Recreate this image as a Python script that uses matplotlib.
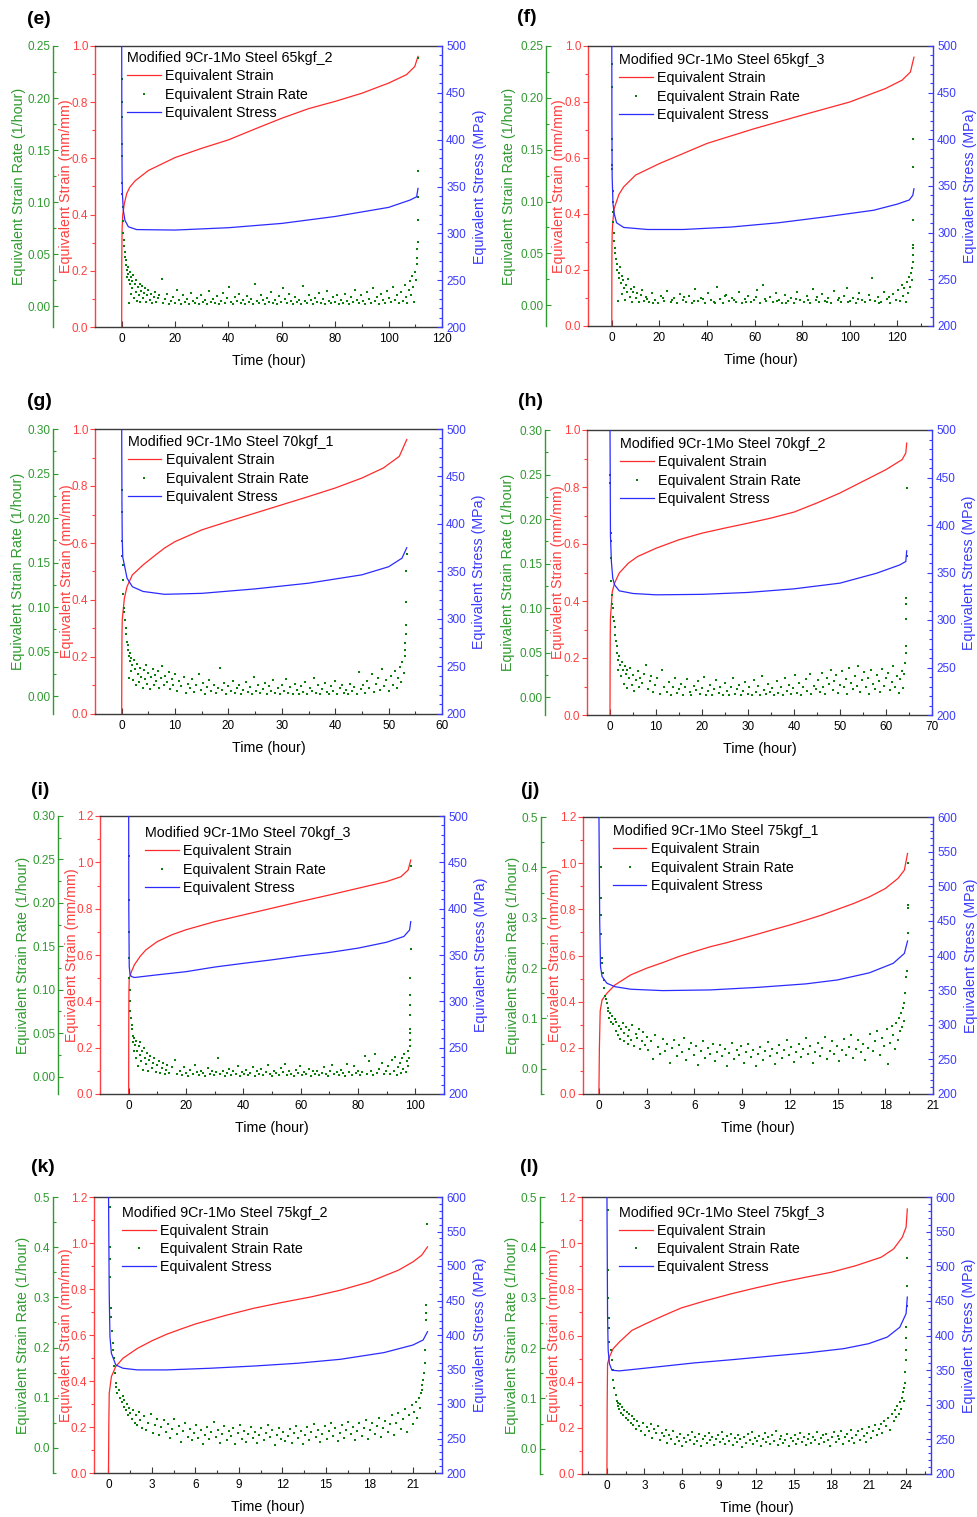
import matplotlib
matplotlib.use('Agg')
import matplotlib.pyplot as plt
from matplotlib.lines import Line2D
from matplotlib.ticker import MultipleLocator, FormatStrFormatter

plt.rcParams['font.family'] = ['Liberation Sans', 'DejaVu Sans']

# ---------------- DATA ----------------
titles = ['Modified 9Cr-1Mo Steel 65kgf_2', 'Modified 9Cr-1Mo Steel 65kgf_3',
          'Modified 9Cr-1Mo Steel 70kgf_1', 'Modified 9Cr-1Mo Steel 70kgf_2',
          'Modified 9Cr-1Mo Steel 70kgf_3', 'Modified 9Cr-1Mo Steel 75kgf_1',
          'Modified 9Cr-1Mo Steel 75kgf_2', 'Modified 9Cr-1Mo Steel 75kgf_3']
letters = ['(e)', '(f)', '(g)', '(h)', '(i)', '(j)', '(k)', '(l)']
series_labels = ['Equivalent Strain', 'Equivalent Strain Rate', 'Equivalent Stress']

# (e) 65kgf_2
strain_t_e = [0, 0.02, 0.05, 0.15, 0.4, 1.0, 1.9, 3, 5, 10, 20, 30, 40, 50, 60, 70, 80, 90, 100, 106.7, 109.8, 111]
strain_v_e = [0, 0.15, 0.25, 0.35, 0.40, 0.44, 0.475, 0.497, 0.52, 0.557, 0.603, 0.636, 0.666, 0.705, 0.743, 0.777, 0.803, 0.832, 0.868, 0.898, 0.927, 0.963]
stress_t_e = [0, 0.05, 0.15, 0.3, 0.6, 1.2, 2.5, 5.6, 20, 40, 60, 80, 100, 108, 110.5, 111]
stress_v_e = [505, 420, 360, 340, 325, 314, 307, 304, 303.5, 306, 310.6, 318, 327.7, 335.5, 339, 348]
rate_e = [(0.08,0.218),(0.1,0.196),(0.12,0.182),(0.15,0.156),(0.18,0.144),(0.25,0.118),(0.3,0.108),(0.4,0.095),(0.5,0.082),(0.6,0.07),(0.8,0.064),(1.0,0.058),(1.2,0.052),(1.4,0.047),(1.6,0.044),
 (1.8,0.04),(2.0,0.035),(2.1,0.028),(2.3,0.038),(2.5,0.031),(2.6,0.003),(2.8,0.025),(3.0,0.033),(3.2,0.021),(3.4,0.028),(3.6,0.012),(3.8,0.024),(4.0,0.017),(4.3,0.03),(4.6,0.008),(4.9,0.021),(5.2,0.014),(5.5,0.025),(5.8,0.005),(6.1,0.018),(6.4,0.011),(6.7,0.021),(7.0,0.004),(7.3,0.015),(7.6,0.019),(8.0,0.008),(8.4,0.013),(8.8,0.017),(9.2,0.004),(9.6,0.011),(10.0,0.016),(10.5,0.006),(11.0,0.012),(11.5,0.003),(12.0,0.009),(12.5,0.014),(13.0,0.004),(13.5,0.008),(14.0,0.011),(15.0,0.026),
 (15.5,0.003),(16.2,0.007),(17.0,0.012),(17.8,0.002),(18.5,0.005),(19.3,0.009),(20.0,0.003),(20.8,0.016),(21.5,0.006),(22.3,0.002),(23.0,0.011),(23.8,0.004),(24.5,0.007),(25.3,0.002),(26.0,0.013),(26.8,0.005),(27.5,0.003),(28.3,0.008),(29.0,0.002),(29.8,0.011),(30.5,0.004),(31.3,0.006),(32.0,0.002),(32.8,0.015),(33.5,0.004),(34.3,0.007),(35.0,0.003),(35.8,0.01),(36.5,0.002),(37.3,0.005),(38.0,0.013),(38.8,0.003),(39.5,0.008),(40.3,0.018),(41.0,0.004),(41.8,0.002),(42.5,0.009),(43.3,0.005),(44.0,0.012),(44.8,0.003),(45.5,0.006),(46.3,0.002),(47.0,0.01),(47.8,0.004),(48.5,0.007),(49.3,0.002),(50.0,0.021),(50.8,0.005),(51.5,0.003),(52.3,0.011),(53.0,0.006),(53.8,0.002),(54.5,0.008),(55.3,0.004),(56.0,0.014),(56.8,0.003),(57.5,0.006),(58.3,0.002),(59.0,0.01),(59.8,0.004),(60.5,0.017),(61.3,0.007),(62.0,0.003),(62.8,0.012),(63.5,0.005),(64.3,0.002),(65.0,0.009),(65.8,0.004),(66.5,0.006),(67.3,0.002),(68.0,0.019),(68.8,0.005),(69.5,0.003),(70.3,0.011),(71.0,0.006),(71.8,0.002),(72.5,0.008),(73.3,0.004),(74.0,0.013),(74.8,0.003),(75.5,0.007),(76.3,0.002),(77.0,0.015),(77.8,0.005),(78.5,0.003),(79.3,0.009),(80.0,0.004),(80.8,0.011),(81.5,0.002),(82.3,0.006),(83.0,0.003),(83.8,0.012),(84.5,0.005),(85.3,0.002),(86.0,0.009),(86.8,0.004),(87.5,0.016),(88.3,0.006),(89.0,0.003),(89.8,0.011),(90.5,0.005),(91.3,0.002),(92.0,0.014),(92.8,0.007),(93.5,0.003),(94.3,0.017),(95.0,0.005),(95.8,0.009),(96.5,0.002),(97.3,0.012),(98.0,0.006),(98.8,0.003),(99.5,0.015),(100.3,0.008),(101.0,0.004),(101.8,0.018),(102.5,0.006),(103.3,0.011),(104.0,0.003),
 (104.8,0.014),(105.5,0.005),(106.0,0.02),(106.5,0.009),(107.0,0.003),(107.5,0.016),(108.0,0.024),(108.4,0.011),(108.8,0.029),(109.2,0.018),(109.6,0.004),(110.0,0.033),(110.3,0.025),(110.5,0.041),(110.7,0.046),(110.8,0.055),(110.9,0.062),(111.0,0.083),(111.0,0.105),(111.0,0.13),(111.0,0.238)]

# (f) 65kgf_3
strain_t_f = [0, 0.02, 0.05, 0.15, 0.4, 1, 3, 5, 10, 20, 40, 60, 80, 100, 115, 122, 125.5, 127]
strain_v_f = [0, 0.15, 0.25, 0.33, 0.37, 0.42, 0.47, 0.497, 0.539, 0.58, 0.652, 0.705, 0.753, 0.80, 0.848, 0.878, 0.907, 0.96]
stress_t_f = [0, 0.05, 0.15, 0.5, 1, 2, 5, 15, 30, 50, 70, 90, 110, 120, 125, 126.5, 127]
stress_v_f = [505, 420, 360, 331, 320.6, 310.6, 305.6, 303.4, 303.4, 306, 310.6, 317, 324, 330.6, 335, 340, 347]
rate_f = [(0.08,0.233),(0.1,0.21),(0.13,0.16),(0.16,0.15),(0.2,0.135),(0.25,0.131),(0.3,0.11),(0.4,0.1),(0.5,0.09),(0.7,0.08),(0.9,0.07),(1.1,0.062),(1.3,0.055),(1.5,0.05),(1.8,0.045),
 (2.0,0.04),(2.3,0.034),(2.6,0.004),(2.9,0.031),(3.2,0.026),(3.5,0.037),(3.8,0.021),(4.1,0.028),(4.5,0.011),(4.9,0.024),(5.3,0.017),(5.7,0.005),(6.1,0.02),(6.5,0.013),(7.0,0.025),(7.5,0.008),(8.0,0.016),(8.5,0.003),(9.0,0.013),(9.5,0.018),(10.0,0.007),(10.7,0.012),(11.4,0.003),(12.1,0.01),(12.8,0.015),(13.5,0.004),
 (14.3,0.008),(15.6,0.003),(16.9,0.012),(18.2,0.005),(19.5,0.002),(20.8,0.009),(22.1,0.004),(23.4,0.014),(24.7,0.003),(26.0,0.007),(27.3,0.002),(28.6,0.011),(29.9,0.005),(31.2,0.003),(32.5,0.009),(33.8,0.002),(35.1,0.016),(36.4,0.004),(37.7,0.007),(39.0,0.002),(40.3,0.012),(41.6,0.005),(42.9,0.003),(44.2,0.018),(45.5,0.006),(46.8,0.002),(48.1,0.01),(49.4,0.004),(50.7,0.007),(52.0,0.003),(53.3,0.013),(54.6,0.002),(55.9,0.006),(57.2,0.009),(58.5,0.003),(59.8,0.005),(61.1,0.015),(62.4,0.002),(63.7,0.02),(65.0,0.004),(66.3,0.008),(67.6,0.003),(68.9,0.012),(70.2,0.005),(71.5,0.002),(72.8,0.01),(74.1,0.004),(75.4,0.007),(76.7,0.002),(78.0,0.013),(79.3,0.005),(80.6,0.003),(81.9,0.009),(83.2,0.002),(84.5,0.016),(85.8,0.005),(87.1,0.003),(88.4,0.011),(89.7,0.004),(91.0,0.007),(92.3,0.002),(93.6,0.014),(94.9,0.005),(96.2,0.003),(97.5,0.009),(98.8,0.017),(100.1,0.004),(101.4,0.007),(102.7,0.002),(104.0,0.012),(105.3,0.005),(106.6,0.003),(107.9,0.01),(109.2,0.026),(110.5,0.004),(111.8,0.008),(113.1,0.003),(114.4,0.013),(115.7,0.006),(117.0,0.002),(118.3,0.011),(119.6,0.005),
 (15.0,0.006),(17.5,0.002),(21.4,0.007),(25.3,0.005),(30.5,0.008),(34.4,0.004),(38.3,0.006),(43.5,0.002),(47.4,0.009),(51.3,0.005),(56.5,0.003),(60.4,0.008),(64.3,0.006),(69.5,0.004),(73.4,0.002),(77.3,0.006),(82.5,0.005),(86.4,0.008),(90.3,0.003),(95.5,0.007),(99.4,0.003),(103.3,0.006),(108.5,0.005),(112.4,0.002),(116.3,0.008),
 (120.5,0.015),(121.2,0.004),(121.8,0.02),(122.4,0.009),(123.0,0.017),(123.5,0.003),(124.0,0.022),(124.5,0.012),(125.0,0.027),(125.4,0.018),(125.8,0.031),(126.1,0.024),(126.3,0.036),(126.5,0.042),(126.6,0.048),(126.7,0.055),(126.7,0.058),(126.8,0.082),(126.8,0.133),(126.8,0.16)]

# (g) 70kgf_1
strain_t_g = [0, 0.02, 0.05, 0.1, 0.5, 1, 2, 4, 6, 8, 10, 15, 20, 25, 30, 35, 40, 45, 49, 52, 53.4]
strain_v_g = [0, 0.15, 0.27, 0.33, 0.406, 0.447, 0.488, 0.523, 0.553, 0.582, 0.605, 0.646, 0.676, 0.705, 0.734, 0.763, 0.793, 0.828, 0.863, 0.904, 0.963]
stress_t_g = [0, 0.05, 0.1, 0.2, 0.5, 1, 2, 4, 8, 15, 25, 35, 45, 50, 52.5, 53.4]
stress_v_g = [505, 420, 385, 365, 357, 343, 334, 329, 326, 327, 331.7, 337.7, 346.5, 355, 364, 375]
rate_g = [(0.08,0.231),(0.1,0.207),(0.12,0.174),(0.15,0.157),(0.18,0.147),(0.22,0.13),(0.3,0.115),(0.4,0.099),(0.5,0.095),(0.6,0.086),(0.75,0.076),(0.9,0.07),(1.0,0.061),(1.1,0.057),
 (1.2,0.052),(1.3,0.045),(1.4,0.02),(1.5,0.048),(1.6,0.039),(1.7,0.028),(1.8,0.043),(2.0,0.035),(2.1,0.018),(2.3,0.041),(2.5,0.03),(2.7,0.012),(2.9,0.036),(3.1,0.025),(3.3,0.016),(3.5,0.032),(3.7,0.022),(3.9,0.009),(4.1,0.029),(4.3,0.019),(4.6,0.035),(4.8,0.014),(5.0,0.026),(5.3,0.008),(5.5,0.021),(5.8,0.031),(6.0,0.013),(6.3,0.024),(6.5,0.017),(6.8,0.028),(7.0,0.009),(7.3,0.02),(7.6,0.034),(7.9,0.012),(8.2,0.023),(8.5,0.016),(8.8,0.027),(9.1,0.008),(9.4,0.019),(9.7,0.013),(10.0,0.025),
 (10.4,0.006),(10.8,0.017),(11.2,0.011),(11.6,0.022),(12.0,0.004),(12.4,0.014),(12.8,0.009),(13.2,0.019),(13.6,0.005),(14.0,0.012),(14.4,0.025),(14.8,0.007),(15.2,0.015),(15.6,0.003),(16.0,0.01),(16.4,0.018),(16.8,0.006),(17.2,0.013),(17.6,0.004),(18.0,0.009),(18.4,0.032),(18.8,0.007),(19.2,0.015),(19.6,0.003),(20.0,0.011),(20.4,0.006),(20.8,0.017),(21.2,0.004),(21.6,0.009),(22.0,0.013),(22.4,0.003),(22.8,0.007),(23.2,0.016),(23.6,0.005),(24.0,0.01),(24.4,0.003),(24.8,0.022),(25.2,0.006),(25.6,0.012),(26.0,0.004),(26.4,0.008),(26.8,0.015),(27.2,0.003),(27.6,0.011),(28.0,0.006),(28.4,0.018),(28.8,0.004),(29.2,0.009),(29.6,0.002),(30.0,0.013),(30.4,0.006),(30.8,0.019),(31.2,0.004),(31.6,0.01),(32.0,0.003),(32.4,0.014),(32.8,0.007),(33.2,0.002),(33.6,0.011),(34.0,0.005),(34.4,0.016),(34.8,0.003),(35.2,0.009),(35.6,0.006),(36.0,0.02),(36.4,0.004),(36.8,0.012),(37.2,0.002),(37.6,0.008),(38.0,0.015),(38.4,0.005),(38.8,0.003),(39.2,0.011),(39.6,0.006),(40.0,0.017),(40.4,0.003),(40.8,0.009),(41.2,0.013),(41.6,0.004),(42.0,0.007),(42.4,0.002),(42.8,0.014),(43.2,0.006),(43.6,0.01),(44.0,0.003),(44.4,0.027),(44.8,0.008),
 (45.2,0.012),(45.6,0.004),(46.0,0.017),(46.4,0.009),(46.8,0.025),(47.2,0.005),(47.6,0.014),(48.0,0.02),(48.4,0.007),(48.8,0.03),(49.2,0.011),(49.6,0.018),(50.0,0.006),(50.4,0.023),(50.8,0.013),(51.2,0.028),(51.5,0.009),(51.8,0.02),(52.1,0.033),(52.4,0.016),(52.6,0.038),(52.8,0.026),(53.0,0.045),(53.1,0.052),(53.1,0.06),(53.2,0.07),(53.2,0.08),(53.3,0.106),(53.3,0.14),(53.4,0.16)]

# (h) 70kgf_2
strain_t_h = [0, 0.02, 0.05, 0.1, 0.5, 1, 2, 4, 6, 10, 15, 20, 25, 30, 35, 40, 45, 50, 55, 60, 63.5, 64.3, 64.5]
strain_v_h = [0, 0.15, 0.27, 0.34, 0.433, 0.463, 0.498, 0.533, 0.556, 0.585, 0.615, 0.638, 0.656, 0.673, 0.691, 0.712, 0.744, 0.779, 0.82, 0.861, 0.896, 0.919, 0.954]
stress_t_h = [0, 0.1, 0.3, 0.6, 1, 2, 5, 10, 20, 30, 40, 50, 58, 63, 64.3, 64.5]
stress_v_h = [505, 389, 361.6, 344, 337, 330.7, 327.9, 326.5, 327, 329, 332.8, 338.8, 349.3, 358, 361.6, 372.8]
rate_h = [(0.08,0.249),(0.1,0.241),(0.12,0.184),(0.13,0.175),(0.16,0.156),(0.22,0.13),(0.35,0.115),(0.45,0.105),(0.55,0.1),(0.7,0.09),(0.85,0.085),(1.0,0.079),(1.1,0.07),(1.3,0.063),(1.5,0.058),
 (1.6,0.05),(1.7,0.042),(1.8,0.03),(2.0,0.046),(2.2,0.036),(2.4,0.024),(2.6,0.04),(2.8,0.031),(3.0,0.015),(3.2,0.035),(3.4,0.026),(3.6,0.01),(3.8,0.03),(4.1,0.021),(4.4,0.033),(4.7,0.014),(5.0,0.025),(5.3,0.007),(5.6,0.019),(6.0,0.029),(6.3,0.012),(6.6,0.022),(7.0,0.016),(7.4,0.026),(7.8,0.036),(8.2,0.009),(8.6,0.018),(9.0,0.024),(9.4,0.006),(9.8,0.014),(10.3,0.021),(10.8,0.004),(11.3,0.031),(11.8,0.011),
 (12.3,0.006),(12.8,0.017),(13.2,0.003),(13.7,0.012),(14.1,0.022),(14.6,0.005),(15.0,0.009),(15.5,0.015),(15.9,0.003),(16.4,0.011),(16.8,0.02),(17.3,0.006),(17.7,0.002),(18.2,0.013),(18.6,0.008),(19.1,0.018),(19.5,0.004),(20.0,0.01),(20.4,0.023),(20.9,0.003),(21.3,0.007),(21.8,0.014),(22.2,0.002),(22.7,0.009),(23.1,0.019),(23.6,0.005),(24.0,0.012),(24.5,0.003),(24.9,0.016),(25.4,0.007),(25.8,0.002),(26.3,0.011),(26.7,0.021),(27.2,0.004),(27.6,0.009),(28.1,0.014),(28.5,0.002),(29.0,0.007),(29.4,0.017),(29.9,0.004),(30.3,0.011),(30.8,0.003),(31.2,0.019),(31.7,0.006),(32.1,0.013),(32.6,0.002),(33.0,0.024),(33.5,0.008),(33.9,0.004),(34.4,0.015),(34.8,0.006),(35.3,0.01),(35.7,0.002),(36.2,0.018),(36.6,0.005),(37.1,0.012),(37.5,0.003),(38.0,0.021),(38.4,0.007),(38.9,0.014),(39.3,0.004),(39.8,0.01),(40.2,0.025),(40.7,0.005),(41.1,0.016),(41.6,0.003),(42.0,0.012),(42.5,0.02),(42.9,0.007),(43.4,0.026),(43.8,0.004),(44.3,0.013),(44.7,0.009),
 (45.2,0.019),(45.6,0.006),(46.0,0.027),(46.4,0.012),(46.8,0.004),(47.2,0.022),(47.6,0.015),(48.0,0.031),(48.4,0.008),(48.8,0.018),(49.2,0.025),(49.6,0.005),(50.0,0.014),(50.4,0.029),(50.8,0.011),(51.2,0.02),(51.6,0.004),(52.0,0.033),(52.4,0.016),(52.8,0.009),(53.2,0.024),(53.6,0.013),(54.0,0.035),(54.4,0.006),(54.8,0.019),(55.2,0.028),(55.6,0.011),(56.0,0.022),(56.4,0.004),(56.8,0.031),(57.2,0.015),(57.6,0.009),(58.0,0.025),(58.4,0.018),(58.8,0.006),(59.2,0.032),(59.6,0.013),(60.0,0.021),(60.4,0.027),(60.8,0.008),(61.2,0.017),(61.6,0.035),(62.0,0.012),(62.4,0.024),(62.8,0.005),(63.1,0.02),(63.4,0.029),(63.7,0.01),(64.0,0.026),(64.2,0.038),(64.3,0.05),(64.3,0.058),(64.4,0.088),(64.4,0.105),(64.4,0.111),(64.5,0.159),(64.5,0.235)]

# (i) 70kgf_3
strain_t_i = [0, 0.02, 0.05, 0.1, 0.2, 1, 2, 4, 6, 10, 15, 20, 30, 40, 50, 60, 70, 80, 90, 95, 97.5, 98.4]
strain_v_i = [0, 0.2, 0.35, 0.45, 0.5, 0.529, 0.558, 0.594, 0.622, 0.658, 0.687, 0.709, 0.744, 0.773, 0.802, 0.831, 0.859, 0.888, 0.917, 0.938, 0.967, 1.01]
stress_t_i = [0, 0.05, 0.2, 0.5, 1, 2, 5, 10, 20, 30, 40, 50, 60, 70, 80, 90, 96, 98, 98.4]
stress_v_i = [505, 400, 337.6, 328.6, 326.8, 325.7, 326.8, 328.6, 332, 337, 341, 344.8, 349, 352.7, 357.4, 363.8, 370, 377, 386]
rate_i = [(0.08,0.254),(0.1,0.203),(0.12,0.166),(0.15,0.137),(0.2,0.114),(0.3,0.1),(0.45,0.087),(0.6,0.075),(0.8,0.068),(1.0,0.06),(1.2,0.055),
 (1.4,0.047),(1.6,0.04),(1.8,0.03),(2.0,0.044),(2.2,0.036),(2.5,0.022),(2.7,0.041),(3.0,0.03),(3.2,0.012),(3.5,0.035),(3.8,0.025),(4.0,0.04),(4.3,0.018),(4.6,0.029),(5.0,0.008),(5.3,0.033),(5.6,0.021),(6.0,0.014),(6.4,0.027),(6.8,0.006),(7.2,0.019),(7.6,0.024),(8.0,0.01),(8.5,0.016),(9.0,0.022),(9.5,0.005),(10.0,0.013),(10.5,0.018),(11.0,0.004),(11.5,0.01),(12.0,0.016),(12.5,0.003),(13.0,0.008),(13.5,0.013),(14.0,0.004),(15.0,0.011),(16.0,0.019),(17.0,0.003),
 (17.8,0.006),(18.5,0.002),(19.3,0.011),(20.0,0.004),(20.8,0.001),(21.5,0.008),(22.3,0.003),(23.0,0.013),(23.8,0.005),(24.5,0.002),(25.3,0.007),(26.0,0.004),(26.8,0.001),(27.5,0.01),(28.3,0.003),(29.0,0.006),(29.8,0.002),(30.5,0.005),(31.3,0.021),(32.0,0.003),(32.8,0.007),(33.5,0.001),(34.3,0.004),(35.0,0.009),(35.8,0.002),(36.5,0.006),(37.3,0.003),(38.0,0.012),(38.8,0.001),(39.5,0.005),(40.3,0.003),(41.0,0.008),(41.8,0.002),(42.5,0.004),(43.3,0.011),(44.0,0.001),(44.8,0.006),(45.5,0.003),(46.3,0.009),(47.0,0.002),(47.8,0.005),(48.5,0.013),(49.3,0.003),(50.0,0.001),(50.8,0.007),(51.5,0.004),(52.3,0.002),(53.0,0.01),(53.8,0.005),(54.5,0.014),(55.3,0.002),(56.0,0.006),(56.8,0.003),(57.5,0.001),(58.3,0.008),(59.0,0.004),(59.8,0.012),(60.5,0.002),(61.3,0.005),(62.0,0.003),(62.8,0.009),(63.5,0.001),(64.3,0.006),(65.0,0.003),(65.8,0.007),(66.5,0.002),(67.3,0.004),(68.0,0.011),(68.8,0.003),(69.5,0.001),(70.3,0.006),(71.0,0.013),(71.8,0.003),(72.5,0.005),(73.3,0.002),(74.0,0.008),(74.8,0.004),(75.5,0.001),(76.3,0.015),(77.0,0.005),(77.8,0.002),(78.5,0.012),(79.3,0.004),(80.0,0.007),(80.8,0.002),(81.5,0.005),(82.3,0.024),(83.0,0.003),(83.8,0.018),(84.5,0.006),(85.3,0.002),(86.0,0.026),(86.8,0.004),(87.5,0.009),(88.3,0.016),(89.0,0.003),(89.8,0.007),
 (90.5,0.012),(91.2,0.003),(91.8,0.019),(92.4,0.006),(93.0,0.023),(93.5,0.002),(94.0,0.011),(94.5,0.016),(95.0,0.004),(95.4,0.021),(95.8,0.009),(96.2,0.026),(96.6,0.005),(97.0,0.018),(97.3,0.012),(97.6,0.03),(97.8,0.022),(98.0,0.035),(98.1,0.05),(98.1,0.042),(98.2,0.055),(98.2,0.071),(98.3,0.083),(98.3,0.094),(98.3,0.113),(98.4,0.147),(98.4,0.243)]

# (j) 75kgf_1
strain_t_j = [0, 0.03, 0.08, 0.2, 0.5, 1, 1.5, 2, 3, 4, 5, 6, 7, 8, 9, 10, 11, 12, 13, 14, 15, 16, 17, 18, 18.8, 19.2, 19.4]
strain_v_j = [0, 0.2, 0.36, 0.408, 0.436, 0.472, 0.494, 0.516, 0.545, 0.569, 0.595, 0.617, 0.638, 0.655, 0.674, 0.693, 0.713, 0.732, 0.753, 0.775, 0.80, 0.825, 0.854, 0.89, 0.934, 0.97, 1.042]
stress_t_j = [0, 0.05, 0.1, 0.2, 0.5, 1, 2, 4, 7, 10, 13, 15, 17, 18.5, 19.2, 19.4]
stress_v_j = [610, 450, 384, 369.5, 360, 355, 351.3, 349.3, 350.3, 354, 359, 364.7, 375, 388.7, 403, 421]
rate_j = [(0.08,0.5),(0.1,0.4),(0.12,0.34),(0.13,0.305),(0.15,0.267),(0.2,0.221),(0.22,0.21),(0.25,0.19),(0.3,0.177),(0.35,0.16),(0.4,0.144),(0.45,0.138),(0.5,0.131),(0.55,0.12),
 (0.6,0.115),(0.65,0.1),(0.7,0.11),(0.75,0.093),(0.8,0.105),(0.9,0.088),(1.0,0.098),(1.05,0.075),(1.1,0.092),(1.2,0.068),(1.25,0.085),(1.3,0.06),(1.4,0.08),(1.5,0.09),(1.55,0.055),(1.6,0.072),(1.7,0.084),(1.8,0.05),(1.85,0.066),(1.9,0.078),(2.0,0.058),(2.1,0.087),(2.2,0.045),(2.3,0.07),(2.4,0.062),(2.5,0.08),(2.6,0.04),(2.7,0.055),(2.8,0.073),(2.9,0.048),(3.0,0.064),
 (3.1,0.038),(3.25,0.055),(3.4,0.02),(3.55,0.067),(3.7,0.044),(3.85,0.03),(4.0,0.06),(4.15,0.035),(4.3,0.05),(4.45,0.012),(4.6,0.041),(4.75,0.058),(4.9,0.026),(5.05,0.047),(5.2,0.033),(5.35,0.062),(5.5,0.018),(5.65,0.039),(5.8,0.052),(5.95,0.028),(6.1,0.045),(6.25,0.008),(6.4,0.036),(6.55,0.055),(6.7,0.022),(6.85,0.041),(7.0,0.03),(7.15,0.05),(7.3,0.015),(7.45,0.034),(7.6,0.047),(7.75,0.025),(7.9,0.04),(8.05,0.006),(8.2,0.031),(8.35,0.052),(8.5,0.02),(8.65,0.037),(8.8,0.028),(8.95,0.046),(9.1,0.012),(9.25,0.033),(9.4,0.049),(9.55,0.023),(9.7,0.038),(9.85,0.005),(10.0,0.029),(10.15,0.044),(10.3,0.018),(10.45,0.035),(10.6,0.054),(10.75,0.025),(10.9,0.04),(11.05,0.01),(11.2,0.031),(11.35,0.048),(11.5,0.021),(11.65,0.037),(11.8,0.057),(11.95,0.027),(12.1,0.043),(12.25,0.014),(12.4,0.033),(12.55,0.05),(12.7,0.024),(12.85,0.039),(13.0,0.061),(13.15,0.029),(13.3,0.045),(13.45,0.012),(13.6,0.034),(13.75,0.052),(13.9,0.026),(14.05,0.041),(14.2,0.063),(14.35,0.019),(14.5,0.036),(14.65,0.055),(14.8,0.03),(14.95,0.046),(15.1,0.015),(15.25,0.038),(15.4,0.06),(15.55,0.027),(15.7,0.044),(15.85,0.067),(16.0,0.022),(16.15,0.04),(16.3,0.058),(16.45,0.033),(16.6,0.05),(16.75,0.018),(16.9,0.042),
 (17.05,0.07),(17.2,0.035),(17.35,0.055),(17.5,0.075),(17.65,0.028),(17.8,0.062),(17.95,0.045),(18.1,0.08),(18.2,0.01),(18.3,0.052),(18.4,0.085),(18.5,0.068),(18.6,0.04),(18.7,0.09),(18.8,0.058),(18.85,0.1),(18.9,0.075),(19.0,0.11),(19.05,0.083),(19.1,0.12),(19.15,0.095),(19.2,0.13),(19.25,0.15),(19.3,0.183),(19.35,0.195),(19.4,0.27),(19.4,0.319),(19.45,0.325),(19.45,0.408)]

# (k) 75kgf_2
strain_t_k = [0, 0.02, 0.05, 0.2, 0.5, 1, 2, 3, 4, 5, 6, 8, 10, 12, 14, 16, 18, 20, 21, 21.6, 22]
strain_v_k = [0, 0.2, 0.347, 0.419, 0.463, 0.499, 0.542, 0.575, 0.603, 0.626, 0.648, 0.684, 0.716, 0.742, 0.766, 0.795, 0.831, 0.882, 0.918, 0.947, 0.983]
stress_t_k = [0, 0.05, 0.1, 0.2, 0.5, 1, 2, 4, 7, 10, 13, 16, 19, 21, 21.7, 22]
stress_v_k = [610, 460, 397.6, 373.5, 356.6, 351.8, 349.4, 349.4, 351.8, 355, 359, 364.8, 374.5, 385.5, 392.8, 404.8]
rate_k = [(0.08,0.48),(0.1,0.4),(0.12,0.376),(0.13,0.341),(0.15,0.278),(0.18,0.26),(0.22,0.232),(0.28,0.21),(0.3,0.196),(0.35,0.18),(0.4,0.163),(0.45,0.15),(0.5,0.13),(0.55,0.122),(0.6,0.11),
 (0.7,0.115),(0.8,0.1),(0.9,0.092),(1.0,0.104),(1.05,0.082),(1.1,0.095),(1.2,0.075),(1.3,0.088),(1.35,0.065),(1.4,0.08),(1.5,0.07),(1.6,0.058),(1.7,0.076),(1.8,0.05),(1.9,0.066),(2.0,0.045),(2.1,0.072),(2.2,0.055),(2.3,0.04),(2.45,0.063),(2.6,0.035),(2.75,0.05),(2.9,0.068),(3.05,0.03),(3.2,0.046),(3.35,0.058),(3.5,0.025),(3.65,0.042),(3.8,0.055),(3.95,0.032),
 (4.1,0.048),(4.25,0.02),(4.4,0.037),(4.55,0.057),(4.7,0.028),(4.85,0.043),(5.0,0.012),(5.15,0.033),(5.3,0.05),(5.45,0.022),(5.6,0.038),(5.75,0.015),(5.9,0.03),(6.05,0.045),(6.2,0.019),(6.35,0.035),(6.5,0.008),(6.65,0.026),(6.8,0.042),(6.95,0.017),(7.1,0.031),(7.25,0.052),(7.4,0.022),(7.55,0.036),(7.7,0.01),(7.85,0.028),(8.0,0.044),(8.15,0.016),(8.3,0.033),(8.45,0.024),(8.6,0.04),(8.75,0.007),(8.9,0.029),(9.05,0.046),(9.2,0.018),(9.35,0.034),(9.5,0.012),(9.65,0.027),(9.8,0.041),(9.95,0.02),(10.1,0.032),(10.25,0.009),(10.4,0.025),(10.55,0.039),(10.7,0.015),(10.85,0.03),(11.0,0.045),(11.15,0.021),(11.3,0.035),(11.45,0.006),(11.6,0.026),(11.75,0.04),(11.9,0.017),(12.05,0.031),(12.2,0.013),(12.35,0.024),(12.5,0.038),(12.65,0.01),(12.8,0.029),(12.95,0.043),(13.1,0.019),(13.25,0.034),(13.4,0.008),(13.55,0.026),(13.7,0.041),(13.85,0.016),(14.0,0.031),(14.15,0.047),(14.3,0.022),(14.45,0.036),(14.6,0.011),(14.75,0.028),(14.9,0.044),(15.05,0.018),(15.2,0.033),(15.35,0.05),(15.5,0.024),(15.65,0.039),(15.8,0.013),(15.95,0.03),(16.1,0.046),(16.25,0.02),(16.4,0.035),(16.55,0.052),(16.7,0.027),(16.85,0.042),(17.0,0.015),(17.15,0.033),(17.3,0.049),(17.45,0.024),(17.6,0.04),(17.75,0.055),(17.9,0.018),(18.05,0.036),(18.2,0.05),(18.35,0.028),(18.5,0.044),(18.65,0.06),(18.8,0.022),(18.95,0.039),(19.1,0.054),(19.25,0.031),(19.4,0.047),(19.55,0.065),
 (19.7,0.026),(19.85,0.05),(20.0,0.07),(20.15,0.038),(20.3,0.058),(20.45,0.078),(20.6,0.032),(20.75,0.065),(20.9,0.085),(21.0,0.048),(21.1,0.072),(21.2,0.092),(21.3,0.06),(21.4,0.1),(21.5,0.08),(21.55,0.11),(21.6,0.116),(21.65,0.125),(21.7,0.136),(21.75,0.15),(21.8,0.169),(21.85,0.196),(21.9,0.254),(21.9,0.268),(21.9,0.285),(21.95,0.447)]

# (l) 75kgf_3
strain_t_l = [0, 0.02, 0.05, 0.2, 0.5, 1, 2, 3, 4, 5, 6, 8, 10, 12, 14, 16, 18, 20, 22, 23, 23.7, 24, 24.1]
strain_v_l = [0, 0.3, 0.478, 0.507, 0.543, 0.572, 0.622, 0.648, 0.673, 0.697, 0.72, 0.752, 0.781, 0.807, 0.831, 0.853, 0.874, 0.903, 0.939, 0.975, 1.026, 1.069, 1.148]
stress_t_l = [0, 0.05, 0.1, 0.2, 0.4, 1, 2, 4, 7, 10, 13, 16, 19, 21, 22.5, 23.5, 24, 24.1]
stress_v_l = [610, 430, 378.6, 359.4, 349.8, 348.9, 350.8, 354.6, 360.4, 365, 370, 374.8, 381, 388.2, 397.8, 412, 431.5, 455.5]
rate_l = [(0.08,0.475),(0.1,0.356),(0.11,0.3),(0.13,0.259),(0.15,0.24),(0.2,0.212),(0.3,0.196),(0.4,0.176),(0.45,0.156),(0.5,0.137),(0.6,0.12),(0.7,0.107),
 (0.8,0.095),(0.85,0.085),(0.9,0.09),(1.0,0.08),(1.05,0.088),(1.1,0.072),(1.2,0.083),(1.3,0.068),(1.4,0.078),(1.5,0.062),(1.6,0.074),(1.7,0.058),(1.8,0.07),(1.9,0.052),(2.0,0.065),(2.1,0.048),(2.2,0.06),(2.3,0.04),(2.45,0.055),(2.6,0.045),(2.75,0.035),(2.9,0.052),(3.05,0.028),(3.2,0.043),(3.35,0.036),(3.5,0.05),(3.65,0.022),(3.8,0.04),(3.95,0.031),
 (4.1,0.045),(4.25,0.018),(4.4,0.032),(4.55,0.025),(4.7,0.038),(4.85,0.012),(5.0,0.028),(5.15,0.02),(5.3,0.035),(5.45,0.009),(5.6,0.024),(5.75,0.016),(5.9,0.03),(6.05,0.006),(6.2,0.021),(6.35,0.014),(6.5,0.027),(6.65,0.018),(6.8,0.033),(6.95,0.01),(7.1,0.023),(7.25,0.015),(7.4,0.029),(7.55,0.005),(7.7,0.02),(7.85,0.026),(8.0,0.012),(8.15,0.031),(8.3,0.017),(8.45,0.024),(8.6,0.008),(8.75,0.02),(8.9,0.028),(9.05,0.014),(9.2,0.034),(9.35,0.019),(9.5,0.01),(9.65,0.025),(9.8,0.016),(9.95,0.03),(10.1,0.007),(10.25,0.022),(10.4,0.014),(10.55,0.027),(10.7,0.019),(10.85,0.004),(11.0,0.024),(11.15,0.012),(11.3,0.029),(11.45,0.017),(11.6,0.033),(11.75,0.009),(11.9,0.021),(12.05,0.015),(12.2,0.026),(12.35,0.006),(12.5,0.019),(12.65,0.031),(12.8,0.013),(12.95,0.023),(13.1,0.01),(13.25,0.028),(13.4,0.016),(13.55,0.035),(13.7,0.008),(13.85,0.02),(14.0,0.026),(14.15,0.012),(14.3,0.018),(14.45,0.03),(14.6,0.005),(14.75,0.022),(14.9,0.015),(15.05,0.027),(15.2,0.01),(15.35,0.019),(15.5,0.032),(15.65,0.014),(15.8,0.024),(15.95,0.007),(16.1,0.02),(16.25,0.029),(16.4,0.012),(16.55,0.023),(16.7,0.017),(16.85,0.034),(17.0,0.009),(17.15,0.021),(17.3,0.027),(17.45,0.014),(17.6,0.03),(17.75,0.018),(17.9,0.006),(18.05,0.024),(18.2,0.033),(18.35,0.013),(18.5,0.026),(18.65,0.019),(18.8,0.036),(18.95,0.01),(19.1,0.023),(19.25,0.03),(19.4,0.016),(19.55,0.038),(19.7,0.021),(19.85,0.012),(20.0,0.028),(20.15,0.035),(20.3,0.018),(20.45,0.04),(20.6,0.025),(20.75,0.014),(20.9,0.032),
 (21.05,0.043),(21.2,0.022),(21.35,0.036),(21.5,0.047),(21.65,0.027),(21.8,0.04),(21.95,0.05),(22.1,0.032),(22.25,0.055),(22.4,0.045),(22.55,0.062),(22.7,0.038),(22.85,0.07),(23.0,0.056),(23.1,0.078),(23.2,0.064),(23.3,0.085),(23.4,0.07),(23.5,0.092),(23.6,0.08),(23.7,0.1),(23.75,0.112),(23.8,0.095),(23.85,0.12),(23.9,0.13),(23.95,0.153),(24.0,0.176),(24.0,0.196),(24.0,0.221),(24.0,0.242),(24.05,0.283),(24.05,0.323),(24.1,0.379)]

# axis ranges / ticks per panel
xlims = [(-10, 120), (-10, 135), (-5, 60), (-5, 70), (-10, 110), (-1, 21), (-1, 23), (-2, 26)]
xmajors = [20, 20, 10, 10, 20, 3, 3, 3]
strain_tops = [1.0, 1.0, 1.0, 1.0, 1.2, 1.2, 1.2, 1.2]
stress_tops = [500, 500, 500, 500, 500, 600, 600, 600]
rate_lims = [(-0.02, 0.25), (-0.02, 0.25), (-0.02, 0.30), (-0.02, 0.30), (-0.02, 0.30),
             (-0.05, 0.5), (-0.05, 0.5), (-0.05, 0.5)]
rate_majors = [0.05, 0.05, 0.05, 0.05, 0.05, 0.1, 0.1, 0.1]

# ---------------- LAYOUT (pixels) ----------------
W, H = 978, 1517
boxes = [(95, 442, 46, 327), (588, 933, 46, 326), (95, 442, 429, 714), (587, 932, 430, 715),
         (100, 444, 816, 1094), (583, 933, 817, 1094), (94, 442, 1197, 1473), (582, 931, 1197, 1474)]
green_x = [53, 546, 53, 545, 58, 541, 53, 540]
letter_pos = [(27, 19), (517, 18), (27, 402), (518, 402), (31, 790), (521, 790), (31, 1168), (520, 1168)]
leg_anchor = [(0.092, 0.982), (0.090, 0.975), (0.094, 0.979), (0.097, 0.975),
              (0.131, 0.964), (0.085, 0.975), (0.081, 0.969), (0.106, 0.969)]
lab_green_x = [19, 509, 18, 508, 23, 513, 23, 512]
lab_red_x = [66, 559, 67, 558, 72, 555, 66, 554]
lab_blue_x = [480, 970, 479, 969, 481, 971, 480, 969]
lab_time_y = [361, 360, 748, 749, 1128, 1128, 1507, 1508]

RED = '#ff2a2a'
RED_AX = '#ff4040'
BLUE = '#2b2bff'
BLUE_AX = '#3a3aff'
GREEN_AX = '#2f9a2f'
GREEN_PT = '#0b7d0b'
FRAME = '#3a3a3a'

TICK_FS = 8.5
LAB_FS = 10.3

all_data = [
    (strain_t_e, strain_v_e, stress_t_e, stress_v_e, rate_e),
    (strain_t_f, strain_v_f, stress_t_f, stress_v_f, rate_f),
    (strain_t_g, strain_v_g, stress_t_g, stress_v_g, rate_g),
    (strain_t_h, strain_v_h, stress_t_h, stress_v_h, rate_h),
    (strain_t_i, strain_v_i, stress_t_i, stress_v_i, rate_i),
    (strain_t_j, strain_v_j, stress_t_j, stress_v_j, rate_j),
    (strain_t_k, strain_v_k, stress_t_k, stress_v_k, rate_k),
    (strain_t_l, strain_v_l, stress_t_l, stress_v_l, rate_l),
]

fig = plt.figure(figsize=(W / 100, H / 100), dpi=100)
px2pt = 72.0 / 100.0

for k in range(8):
    L, R, T, B = boxes[k]
    st_t, st_v, ss_t, ss_v, rate = all_data[k]
    ax = fig.add_axes([L / W, 1 - B / H, (R - L) / W, (B - T) / H])
    ax_r = ax.twinx()
    ax_s = ax.twinx()

    # --- strain (red, main left axis)
    ax.plot(st_t, st_v, color=RED, lw=0.9, zorder=3)
    ax.set_xlim(*xlims[k])
    ax.set_ylim(0, strain_tops[k])
    ax.xaxis.set_major_locator(MultipleLocator(xmajors[k]))
    ax.xaxis.set_minor_locator(MultipleLocator(xmajors[k] / 2))
    ax.yaxis.set_major_locator(MultipleLocator(0.2))
    ax.yaxis.set_minor_locator(MultipleLocator(0.1))
    ax.yaxis.set_major_formatter(FormatStrFormatter('%.1f'))
    ax.tick_params(axis='x', which='both', direction='in', top=False, colors=FRAME,
                   labelcolor='black', labelsize=TICK_FS, pad=4)
    ax.tick_params(axis='x', which='major', length=4, width=0.8)
    ax.tick_params(axis='x', which='minor', length=2.2, width=0.8)
    ax.tick_params(axis='y', which='both', direction='out', colors=RED_AX,
                   labelcolor=RED_AX, labelsize=TICK_FS, pad=1.5, width=0.8)
    ax.tick_params(axis='y', which='major', length=3.5)
    ax.tick_params(axis='y', which='minor', length=2)
    ax.spines['left'].set_color(RED_AX)
    ax.spines['right'].set_visible(False)
    ax.spines['top'].set_color(FRAME)
    ax.spines['bottom'].set_color(FRAME)
    for s in ax.spines.values():
        s.set_linewidth(1.0)
    ax.set_ylabel('Equivalent Strain (mm/mm)', color=RED_AX, fontsize=LAB_FS)
    ax.yaxis.set_label_coords(lab_red_x[k] / W, 1 - ((T + B) / 2) / H, transform=fig.transFigure)
    ax.yaxis.label.set_verticalalignment('center')
    ax.set_xlabel('Time (hour)', fontsize=LAB_FS)
    ax.xaxis.set_label_coords(((L + R) / 2) / W, 1 - lab_time_y[k] / H, transform=fig.transFigure)
    ax.xaxis.label.set_verticalalignment('center')

    # --- strain rate (green, offset left axis)
    rt = [p[0] for p in rate]
    rv = [p[1] for p in rate]
    ax_r.plot(rt, rv, linestyle='none', marker='s', markersize=1.95, markeredgewidth=0,
              color=GREEN_PT, zorder=2)
    ax_r.set_ylim(*rate_lims[k])
    ax_r.yaxis.tick_left()
    ax_r.yaxis.set_label_position('left')
    ax_r.spines['left'].set_position(('outward', (L - green_x[k]) * px2pt))
    ax_r.spines['left'].set_visible(True)
    ax_r.spines['left'].set_color(GREEN_AX)
    ax_r.spines['left'].set_linewidth(1.0)
    for nm in ('right', 'top', 'bottom'):
        ax_r.spines[nm].set_visible(False)
    ax_r.yaxis.set_major_locator(MultipleLocator(rate_majors[k]))
    ax_r.yaxis.set_minor_locator(MultipleLocator(rate_majors[k] / 2))
    ax_r.yaxis.set_major_formatter(FormatStrFormatter('%.2f' if rate_majors[k] < 0.1 else '%.1f'))
    ax_r.tick_params(axis='y', which='both', direction='in', colors=GREEN_AX,
                     labelcolor=GREEN_AX, labelsize=TICK_FS, pad=2, width=0.8)
    ax_r.tick_params(axis='y', which='major', length=3.5)
    ax_r.tick_params(axis='y', which='minor', length=2)
    ax_r.set_ylabel('Equivalent Strain Rate (1/hour)', color=GREEN_AX, fontsize=LAB_FS)
    ax_r.yaxis.set_label_coords(lab_green_x[k] / W, 1 - ((T + B) / 2) / H, transform=fig.transFigure)
    ax_r.yaxis.label.set_verticalalignment('center')

    # --- stress (blue, right axis)
    ax_s.plot(ss_t, ss_v, color=BLUE, lw=0.9, zorder=3)
    ax_s.set_ylim(200, stress_tops[k])
    ax_s.yaxis.set_major_locator(MultipleLocator(50))
    ax_s.yaxis.set_minor_locator(MultipleLocator(10))
    ax_s.yaxis.set_major_formatter(FormatStrFormatter('%d'))
    ax_s.spines['right'].set_color(BLUE_AX)
    ax_s.spines['right'].set_linewidth(1.0)
    for nm in ('left', 'top', 'bottom'):
        ax_s.spines[nm].set_visible(False)
    ax_s.tick_params(axis='y', which='both', direction='in', colors=BLUE_AX,
                     labelcolor=BLUE_AX, labelsize=TICK_FS, pad=3, width=0.8)
    ax_s.tick_params(axis='y', which='major', length=3.5)
    ax_s.tick_params(axis='y', which='minor', length=2)
    ax_s.set_ylabel('Equivalent Stress (MPa)', color=BLUE_AX, fontsize=LAB_FS)
    ax_s.yaxis.set_label_coords(lab_blue_x[k] / W, 1 - ((T + B) / 2) / H, transform=fig.transFigure)
    ax_s.yaxis.label.set_verticalalignment('center')

    # --- legend
    h1 = Line2D([], [], color=RED, lw=0.9)
    h2 = Line2D([], [], color=GREEN_PT, marker='s', markersize=2.0, markeredgewidth=0, linestyle='none')
    h3 = Line2D([], [], color=BLUE, lw=0.9)
    ax_s.legend([h1, h2, h3], series_labels, title=titles[k], loc='upper left',
                bbox_to_anchor=leg_anchor[k], frameon=False, fontsize=LAB_FS,
                title_fontsize=LAB_FS, alignment='left', borderpad=0, borderaxespad=0,
                handlelength=2.35, handletextpad=0.3, labelspacing=0.3)

    # panel letter
    lx, ly = letter_pos[k]
    fig.text(lx / W, 1 - ly / H, letters[k], fontsize=14, fontweight='bold',
             ha='left', va='center')

fig.savefig('out.png', dpi=100, facecolor='white')
